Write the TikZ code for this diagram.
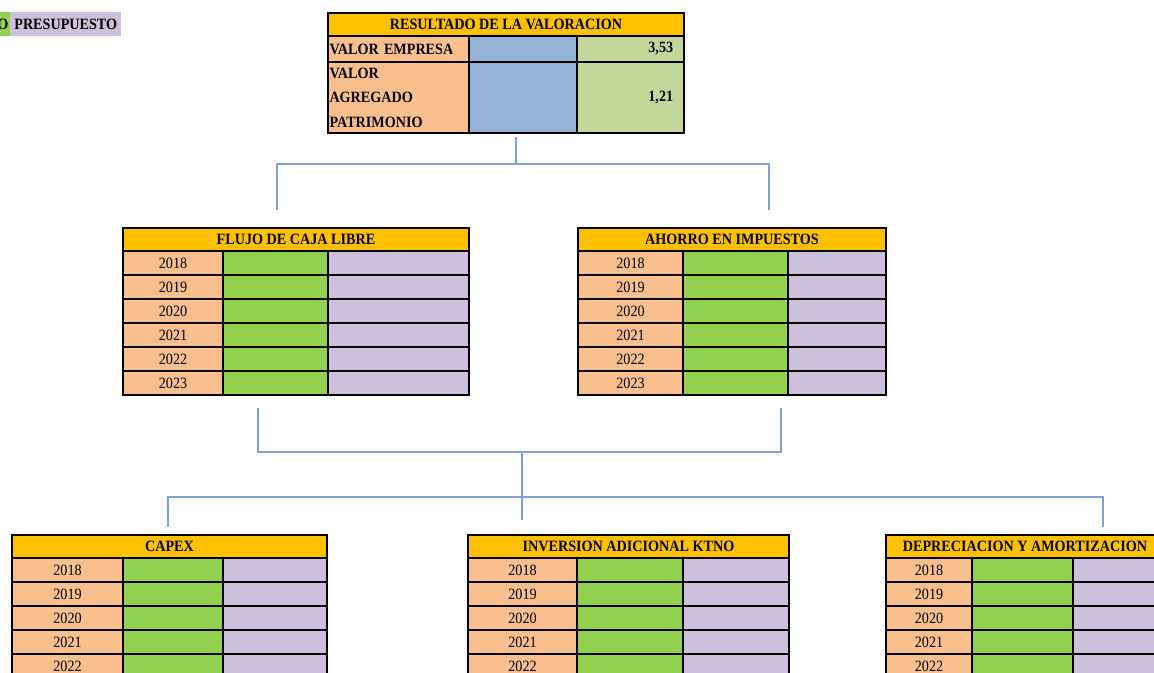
\documentclass[tikz,border=0pt]{standalone}
\usepackage{fontspec}
\setmainfont{Liberation Serif}[FakeStretch=0.9]
\definecolor{headorange}{HTML}{FFC000}
\definecolor{peach}{HTML}{FABF8F}
\definecolor{realgreen}{HTML}{92D050}
\definecolor{budgetlilac}{HTML}{CCC0DA}
\definecolor{valblue}{HTML}{95B3D7}
\definecolor{valgreen}{HTML}{C4D79B}
\definecolor{linkblue}{RGB}{128,162,212}
\def\px{0.75pt}
\newcommand{\cellfont}{\fontsize{11.8}{18.4}\selectfont}
\tikzset{
  cell/.style={draw=black, line width=1.5pt, inner sep=0pt, anchor=north west, font=\cellfont},
  headcell/.style={cell, fill=headorange, font=\cellfont\bfseries},
  yearcell/.style={cell, fill=peach, minimum height=24*\px},
  realcell/.style={cell, fill=realgreen, minimum height=24*\px},
  budgetcell/.style={cell, fill=budgetlilac, minimum height=24*\px},
  namecell/.style={cell, fill=peach, font=\cellfont\bfseries, inner xsep=1.1pt, text width=103.5pt, minimum width=141*\px, align=left},
  valuecell/.style={cell, fill=valgreen, font=\cellfont\bfseries, text width=64pt, align=right},
  legcell/.style={anchor=north west, inner sep=0pt, minimum height=24*\px, font=\cellfont\bfseries},
  link/.style={draw=linkblue, line width=1pt}
}
% name, left, green col, lilac col, right, top, title
\newcommand{\yeartable}[7]{%
  \node[headcell, minimum width={(#5-#2)*\px}, minimum height=23*\px] (#1) at (#2,#6) {#7};
  \foreach \yr [count=\rowi from 0] in {2018,...,2023}{
    \node[yearcell, minimum width={(#3-#2)*\px}] (#1-\yr) at (#2,{#6+23+24*\rowi}) {\yr};
    \node[realcell, minimum width={(#4-#3)*\px}] (#1-\yr-real) at (#3,{#6+23+24*\rowi}) {};
    \node[budgetcell, minimum width={(#5-#4)*\px}] (#1-\yr-budget) at (#4,{#6+23+24*\rowi}) {};
  }
}

\begin{document}
\begin{tikzpicture}[x=0.75pt, y=-0.75pt]
		%%%%% START %%%%%
		\useasboundingbox (0,0) rectangle (1154,672);
		\clip (0,0) rectangle (1154,672);
		
		% legend
		\fill[realgreen] (-20,12) rectangle (10,36);
		\node[legcell, anchor=north east, inner xsep=1pt] (legreal) at (10,12) {O};
		\node[legcell, fill=budgetlilac, minimum width=111*\px] (legbudget) at (10,12) {PRESUPUESTO};
		
		% resultado
		\node[headcell, minimum width=356*\px, minimum height=23*\px] (res) at (327,12) {RESULTADO DE LA VALORACION};
		\node[namecell, minimum height=26*\px] (res-emp) at (327,35) {VALOR EMPRESA};
		\node[cell, fill=valblue, minimum width=108*\px, minimum height=26*\px] (res-emp-blue) at (468,35) {};
		\node[valuecell, minimum width=107*\px, minimum height=26*\px] (res-emp-val) at (576,35) {3,53};
		\node[namecell, minimum height=71*\px] (res-pat) at (327,61) {VALOR\\AGREGADO\\PATRIMONIO};
		\node[cell, fill=valblue, minimum width=108*\px, minimum height=71*\px] (res-pat-blue) at (468,61) {};
		\node[valuecell, minimum width=107*\px, minimum height=71*\px] (res-pat-val) at (576,61) {1,21};
		
		% second level
		\yeartable{flujo}{122}{222}{327}{468}{227}{FLUJO DE CAJA LIBRE}
		\yeartable{ahorro}{577}{682}{787}{885}{227}{AHORRO EN IMPUESTOS}
		
		% third level
		\yeartable{capex}{11}{122}{222}{326}{534}{CAPEX}
		\yeartable{ktno}{467}{576}{682}{788}{534}{INVERSION ADICIONAL KTNO}
		\yeartable{depre}{885}{971}{1072}{1163}{534}{DEPRECIACION Y AMORTIZACION}
		
		% connectors
		\coordinate (res-out) at (516,137);
		\coordinate (bus-top) at (516,164);
		\coordinate (flujo-in) at (277,210);
		\coordinate (ahorro-in) at (769,210);
		\draw[link] (res-out) -- (bus-top);
		\draw[link] (flujo-in) |- (bus-top) -| (ahorro-in);
		
		\coordinate (flujo-out) at (258,408);
		\coordinate (ahorro-out) at (781,408);
		\coordinate (bus-mid) at (522,452);
		\coordinate (ktno-in) at (522,520);
		\draw[link] (flujo-out) |- (bus-mid) -| (ahorro-out);
		\draw[link] (bus-mid) -- (ktno-in);
		
		\coordinate (bus-low) at (522,497);
		\coordinate (capex-in) at (168,527);
		\coordinate (depre-in) at (1103,527);
		\draw[link] (capex-in) |- (bus-low) -| (depre-in);
		
		%%%%% END %%%%%
\end{tikzpicture}
\end{document}
